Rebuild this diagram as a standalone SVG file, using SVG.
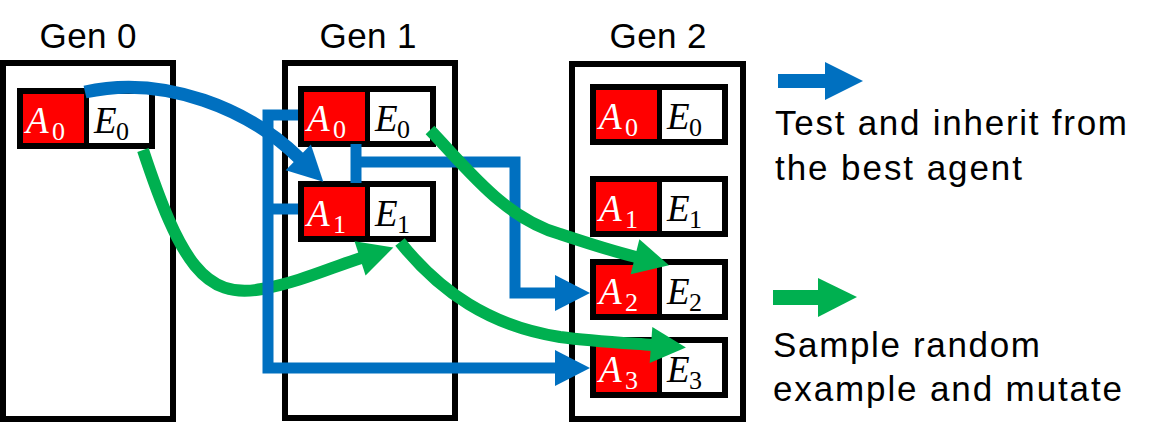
<svg xmlns="http://www.w3.org/2000/svg" width="1166" height="433" viewBox="0 0 1166 433">
  <style>
    .gen { fill: #FFFFFF; stroke: #000000; stroke-width: 6; }
    .cellb { fill: #000000; }
    .red { fill: #FF0000; }
    .wht { fill: #FFFFFF; }
    .lbl { font-family: "Liberation Sans", Arial, sans-serif; font-size: 35px; fill: #000000; }
    .av { font-family: "Liberation Serif", "Times New Roman", serif; font-style: italic; font-size: 37px; fill: #FFFFFF; }
    .ev { font-family: "Liberation Serif", "Times New Roman", serif; font-style: italic; font-size: 37px; fill: #000000; }
    .sa { font-family: "Liberation Serif", "Times New Roman", serif; font-size: 26px; fill: #FFFFFF; }
    .se { font-family: "Liberation Serif", "Times New Roman", serif; font-size: 26px; fill: #000000; }
    .blue { fill: none; stroke: #0070C0; stroke-width: 11; stroke-linejoin: miter; }
    .green { fill: none; stroke: #00B050; stroke-width: 12; }
  </style>
  <defs>
    <marker id="hb" markerUnits="userSpaceOnUse" markerWidth="40" markerHeight="40" refX="1" refY="0" orient="auto" overflow="visible">
      <path d="M0,-18 L35,0 L0,18 Z" fill="#0070C0"/>
    </marker>
    <marker id="hg" markerUnits="userSpaceOnUse" markerWidth="40" markerHeight="40" refX="1" refY="0" orient="auto" overflow="visible">
      <path d="M0,-18 L35,0 L0,18 Z" fill="#00B050"/>
    </marker>
    <g id="cellbase">
      <rect class="cellb" x="0" y="0" width="138" height="61"/>
      <rect class="red" x="6" y="6" width="61" height="49"/>
      <rect class="wht" x="72" y="6" width="60" height="49"/>
    </g>
  </defs>

  <rect x="0" y="0" width="1166" height="433" fill="#FFFFFF"/>

  <!-- generation columns -->
  <g id="gen0">
    <text class="lbl" x="88" y="48" text-anchor="middle" textLength="97" lengthAdjust="spacing">Gen 0</text>
    <rect class="gen" x="3" y="63" width="170" height="356"/>
  </g>
  <g id="gen1">
    <text class="lbl" x="368" y="48" text-anchor="middle" textLength="97" lengthAdjust="spacing">Gen 1</text>
    <rect class="gen" x="285" y="63" width="170" height="355"/>
  </g>
  <g id="gen2">
    <text class="lbl" x="658" y="48" text-anchor="middle" textLength="97" lengthAdjust="spacing">Gen 2</text>
    <rect class="gen" x="572" y="64" width="171" height="355"/>
  </g>

  <!-- cells -->
  <g id="g0-cell0" transform="translate(17,88)">
    <use href="#cellbase"/>
    <text class="av" x="9" y="45">A</text><text class="sa" x="35" y="52">0</text>
    <text class="ev" x="77" y="45">E</text><text class="se" x="99" y="52">0</text>
  </g>
  <g id="g1-cell0" transform="translate(298,86)">
    <use href="#cellbase"/>
    <text class="av" x="9" y="45">A</text><text class="sa" x="35" y="52">0</text>
    <text class="ev" x="77" y="45">E</text><text class="se" x="99" y="52">0</text>
  </g>
  <g id="g1-cell1" transform="translate(298,181)">
    <use href="#cellbase"/>
    <text class="av" x="9" y="45">A</text><text class="sa" x="35" y="52">1</text>
    <text class="ev" x="77" y="45">E</text><text class="se" x="99" y="52">1</text>
  </g>
  <g id="g2-cell0" transform="translate(590,84)">
    <use href="#cellbase"/>
    <text class="av" x="9" y="45">A</text><text class="sa" x="35" y="52">0</text>
    <text class="ev" x="77" y="45">E</text><text class="se" x="99" y="52">0</text>
  </g>
  <g id="g2-cell1" transform="translate(590,176)">
    <use href="#cellbase"/>
    <text class="av" x="9" y="45">A</text><text class="sa" x="35" y="52">1</text>
    <text class="ev" x="77" y="45">E</text><text class="se" x="99" y="52">1</text>
  </g>
  <g id="g2-cell2" transform="translate(590,259)">
    <use href="#cellbase"/>
    <text class="av" x="9" y="45">A</text><text class="sa" x="35" y="52">2</text>
    <text class="ev" x="77" y="45">E</text><text class="se" x="99" y="52">2</text>
  </g>
  <g id="g2-cell3" transform="translate(590,337)">
    <use href="#cellbase"/>
    <text class="av" x="9" y="45">A</text><text class="sa" x="35" y="52">3</text>
    <text class="ev" x="77" y="45">E</text><text class="se" x="99" y="52">3</text>
  </g>

  <!-- connectors -->
  <g id="connectors">
    <path class="green" d="M143,150 C180,262 205,300 262,289 C300,282 330,268 361,258" marker-end="url(#hg)"/>
    <path class="blue" style="stroke-width:13" d="M85,92 C165,74 250,110 299,158" marker-end="url(#hb)"/>
    <path class="blue" d="M298,115 H268 V368 H556" marker-end="url(#hb)"/>
    <path class="blue" d="M298,209 H268"/>
    <path class="blue" d="M356,144 V183"/>
    <path class="blue" d="M356,162 H515 V293 H556" marker-end="url(#hb)"/>
    <path class="green" d="M430,130 C470,172 505,218 560,234 C590,244 612,251 636,257" marker-end="url(#hg)"/>
    <path class="green" d="M400,242 C440,292 490,326 560,337 C590,341 625,343 652,345" marker-end="url(#hg)"/>
  </g>

  <!-- legend -->
  <g id="legend-blue">
    <rect x="778" y="74" width="49" height="14" fill="#0070C0"/>
    <polygon points="825,62 863,81 825,100" fill="#0070C0"/>
    <text class="lbl" x="775" y="135" textLength="352" lengthAdjust="spacing">Test and inherit from</text>
    <text class="lbl" x="775" y="180" textLength="247" lengthAdjust="spacing">the best agent</text>
  </g>
  <g id="legend-green">
    <rect x="773" y="290" width="47" height="15" fill="#00B050"/>
    <polygon points="818,278 857,297 818,317" fill="#00B050"/>
    <text class="lbl" x="773" y="357" textLength="267" lengthAdjust="spacing">Sample random</text>
    <text class="lbl" x="773" y="401" textLength="349" lengthAdjust="spacing">example and mutate</text>
  </g>
</svg>
